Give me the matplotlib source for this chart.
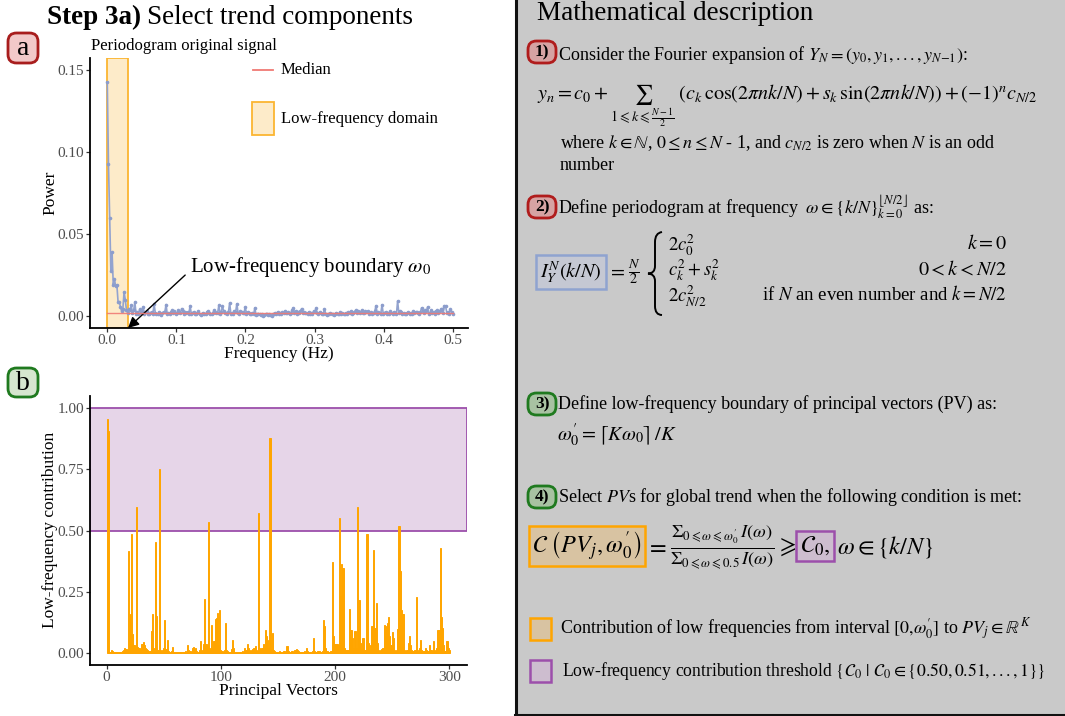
import matplotlib
matplotlib.use("Agg")
import matplotlib.pyplot as plt
from matplotlib.patches import Rectangle, FancyBboxPatch, PathPatch
from matplotlib.lines import Line2D
from matplotlib.path import Path

plt.rcParams['font.family'] = ['Liberation Serif', 'DejaVu Serif']
plt.rcParams['mathtext.fontset'] = 'stix'

W, H = 1065, 716

# ---------------- data ----------------
N_FREQ = 576
power = [
    0.1427, 0.0925, 0.060, 0.0276, 0.039, 0.019, 0.0225, 0.018, 0.019, 0.0085,
    0.0085, 0.0055, 0.003, 0.0045, 0.0146, 0.010, 0.0035, 0.002, 0.0045, 0.0035,
    0.0065, 0.002, 0.0035, 0.0085, 0.001, 0.0025, 0.0015, 0.004, 0.002, 0.0025,
    0.0055, 0.001, 0.0025, 0.003, 0.0015, 0.001, 0.002, 0.0025, 0.001, 0.0075,
    0.002, 0.0015, 0.001, 0.0025, 0.0015, 0.0005, 0.002, 0.0025, 0.0025, 0.007,
    0.001, 0.002, 0.0015, 0.0025, 0.0035, 0.002, 0.003, 0.0015, 0.002, 0.0035,
    0.0025, 0.002, 0.0045, 0.003, 0.0015, 0.0025, 0.002, 0.0025, 0.001, 0.0063,
    0.0015, 0.002, 0.0025, 0.001, 0.0015, 0.002, 0.003, 0.001, 0.0005, 0.0015,
    0.002, 0.0015, 0.001, 0.0025, 0.003, 0.002, 0.0015, 0.001, 0.002, 0.0035,
    0.0025, 0.002, 0.002, 0.0065, 0.0015, 0.0025, 0.006, 0.003, 0.002, 0.002,
    0.001, 0.0025, 0.0079, 0.0015, 0.002, 0.001, 0.003, 0.0025, 0.0075, 0.002,
    0.0015, 0.003, 0.0025, 0.002, 0.002, 0.0055, 0.0015, 0.0025, 0.002, 0.001,
    0.0015, 0.002, 0.001, 0.005, 0.0005, 0.001, 0.0015, 0.001, 0.0005, 0.001,
    0.0003, 0.0008, 0.001, 0.0015, 0.0005, 0.001, 0.0005, 0.0003, 0.001, 0.0015,
    0.002, 0.0015, 0.0025, 0.001, 0.002, 0.0015, 0.0025, 0.002, 0.003, 0.002,
    0.002, 0.0025, 0.0015, 0.002, 0.0035, 0.005, 0.002, 0.003, 0.0015, 0.0025,
    0.002, 0.003, 0.0045, 0.002, 0.0025, 0.002, 0.002, 0.0015, 0.0025, 0.001,
    0.002, 0.0015, 0.003, 0.0025, 0.0047, 0.002, 0.001, 0.0025, 0.002, 0.0015,
    0.001, 0.0043, 0.0015, 0.0005, 0.001, 0.0015, 0.002, 0.001, 0.0015, 0.0005,
    0.001, 0.002, 0.0015, 0.001, 0.0025, 0.0015, 0.002, 0.001, 0.0015, 0.002,
    0.0015, 0.0025, 0.002, 0.003, 0.0015, 0.002, 0.0025, 0.0035, 0.002, 0.003,
    0.0025, 0.002, 0.0035, 0.002, 0.002, 0.003, 0.0025, 0.003, 0.0015, 0.002,
    0.0025, 0.0015, 0.002, 0.003, 0.0063, 0.0015, 0.0025, 0.002, 0.0015, 0.0069,
    0.0015, 0.002, 0.0025, 0.001, 0.002, 0.0015, 0.003, 0.002, 0.0015, 0.0025,
    0.002, 0.001, 0.0091, 0.002, 0.003, 0.0025, 0.0015, 0.002, 0.001, 0.0015,
    0.002, 0.0025, 0.001, 0.002, 0.0015, 0.003, 0.002, 0.0025, 0.0025, 0.002,
    0.0015, 0.0025, 0.005, 0.003, 0.002, 0.0035, 0.003, 0.0055, 0.0015, 0.002,
    0.0035, 0.002, 0.0025, 0.0015, 0.003, 0.0035, 0.002, 0.003, 0.004, 0.0045,
    0.002, 0.0063, 0.006, 0.002, 0.0025, 0.0015, 0.004, 0.0025, 0.001,
]
freq = [k / N_FREQ for k in range(len(power))]
median_power = 0.0016
low_freq_boundary = 0.03

contribution = [
    0.956, 0.906, 0.005, 0.010, 0.008, 0.004, 0.003, 0.004, 0.003, 0.004,
    0.003, 0.005, 0.004, 0.006, 0.012, 0.020, 0.015, 0.010, 0.415, 0.157,
    0.150, 0.484, 0.075, 0.030, 0.020, 0.595, 0.025, 0.018, 0.020, 0.012,
    0.035, 0.044, 0.030, 0.020, 0.015, 0.012, 0.008, 0.006, 0.089, 0.157,
    0.020, 0.008, 0.452, 0.150, 0.010, 0.753, 0.012, 0.006, 0.010, 0.020,
    0.136, 0.015, 0.054, 0.006, 0.004, 0.005, 0.008, 0.025, 0.005, 0.004,
    0.003, 0.004, 0.005, 0.003, 0.004, 0.005, 0.003, 0.004, 0.006, 0.004,
    0.030, 0.010, 0.006, 0.005, 0.020, 0.024, 0.012, 0.018, 0.008, 0.005,
    0.010, 0.048, 0.010, 0.006, 0.035, 0.220, 0.034, 0.030, 0.535, 0.020,
    0.010, 0.115, 0.020, 0.048, 0.140, 0.143, 0.163, 0.030, 0.174, 0.010,
    0.008, 0.005, 0.010, 0.120, 0.010, 0.006, 0.004, 0.005, 0.015, 0.054,
    0.020, 0.005, 0.004, 0.003, 0.004, 0.005, 0.004, 0.003, 0.006, 0.005,
    0.020, 0.010, 0.034, 0.020, 0.010, 0.006, 0.012, 0.015, 0.020, 0.027,
    0.010, 0.008, 0.572, 0.020, 0.010, 0.020, 0.034, 0.020, 0.095, 0.068,
    0.054, 0.020, 0.877, 0.015, 0.082, 0.010, 0.006, 0.005, 0.004, 0.005,
    0.006, 0.004, 0.005, 0.004, 0.008, 0.006, 0.005, 0.028, 0.006, 0.004,
    0.005, 0.008, 0.006, 0.004, 0.010, 0.015, 0.012, 0.006, 0.005, 0.004,
    0.005, 0.004, 0.006, 0.005, 0.020, 0.006, 0.004, 0.005, 0.004, 0.006,
    0.060, 0.006, 0.004, 0.005, 0.008, 0.006, 0.005, 0.004, 0.006, 0.136,
    0.109, 0.020, 0.006, 0.005, 0.004, 0.008, 0.006, 0.370, 0.068, 0.035,
    0.035, 0.035, 0.030, 0.553, 0.232, 0.365, 0.347, 0.020, 0.010, 0.010,
    0.012, 0.010, 0.180, 0.093, 0.060, 0.020, 0.088, 0.088, 0.020, 0.597,
    0.214, 0.040, 0.010, 0.060, 0.060, 0.010, 0.010, 0.484, 0.040, 0.010,
    0.030, 0.110, 0.110, 0.422, 0.102, 0.204, 0.040, 0.010, 0.008, 0.012,
    0.015, 0.020, 0.113, 0.093, 0.109, 0.120, 0.147, 0.068, 0.030, 0.084,
    0.060, 0.010, 0.008, 0.012, 0.098, 0.520, 0.334, 0.174, 0.160, 0.160,
    0.010, 0.008, 0.012, 0.040, 0.068, 0.030, 0.010, 0.008, 0.006, 0.010,
    0.228, 0.010, 0.008, 0.020, 0.054, 0.010, 0.008, 0.006, 0.020, 0.012,
    0.006, 0.008, 0.030, 0.010, 0.006, 0.048, 0.010, 0.008, 0.020, 0.093,
    0.093, 0.430, 0.146, 0.102, 0.030, 0.008, 0.006, 0.048, 0.020, 0.010,
]
pv_index = list(range(1, len(contribution) + 1))
threshold_low, threshold_high = 0.50, 1.00

a_yticks = [0.00, 0.05, 0.10, 0.15]
a_xticks = [0.0, 0.1, 0.2, 0.3, 0.4, 0.5]
b_yticks = [0.00, 0.25, 0.50, 0.75, 1.00]
b_xticks = [0, 100, 200, 300]

# ---------------- helpers ----------------
def P(x, y):
    return (x / W, 1 - y / H)

def AX(l, t, r, b):
    return [l / W, 1 - b / H, (r - l) / W, (b - t) / H]

fig = plt.figure(figsize=(W / 100, H / 100), dpi=100)
fig.patch.set_facecolor('white')
renderer = fig.canvas.get_renderer()

TICKC = '#4d4d4d'

def style_axes(ax):
    for s in ['top', 'right']:
        ax.spines[s].set_visible(False)
    for s in ['left', 'bottom']:
        ax.spines[s].set_linewidth(1.3)
        ax.spines[s].set_color('black')
    ax.tick_params(direction='out', length=3, width=0.9, color='#333333',
                   labelsize=11, labelcolor=TICKC, pad=1.2)
    ax.set_facecolor('white')

# ---------------- panel a ----------------
axa = fig.add_axes(AX(90, 58, 468, 328))
style_axes(axa)
axa.axvspan(0, low_freq_boundary, facecolor='#fdebc9', edgecolor='#fbb531', lw=1.3, zorder=1)
axa.plot(freq, power, color='#93a3cf', lw=1.2, marker='o', ms=2.6, mew=0,
         mfc='#8c9dcc', zorder=3)
axa.plot([freq[0], freq[-1]], [median_power, median_power], color='#f07a74', lw=1.0,
         alpha=0.9, zorder=4)
axa.set_xlim(-0.025, 0.522)
axa.set_ylim(-0.0073, 0.1573)
axa.set_yticks(a_yticks)
axa.set_yticklabels(['0.00', '0.05', '0.10', '0.15'])
axa.set_xticks(a_xticks)
axa.set_xticklabels(['0.0', '0.1', '0.2', '0.3', '0.4', '0.5'])

axa.annotate('Low-frequency boundary $\\omega_0$',
             xy=(low_freq_boundary, -0.0073), xycoords='data',
             xytext=(190, H - 267), textcoords='figure pixels',
             fontsize=15, ha='left', va='center',
             arrowprops=dict(arrowstyle='-|>', color='black', lw=1.0,
                             mutation_scale=16, relpos=(0, 0.35),
                             shrinkA=2, shrinkB=0))

# legend (panel a)
fig.add_artist(Line2D([253 / W, 273 / W], [1 - 70 / H, 1 - 70 / H], color='#f07a74', lw=1.3))
fig.add_artist(Rectangle(P(252, 135), 22 / W, 33 / H, transform=fig.transFigure,
                         facecolor='#fdebc9', edgecolor='#fbb531', lw=1.3))
fig.text(*P(281, 70), 'Median', fontsize=12, ha='left', va='center')
fig.text(*P(281, 119), 'Low-frequency domain', fontsize=12, ha='left', va='center')

fig.text(*P(91, 46), 'Periodogram original signal', fontsize=12, ha='left', va='center')
fig.text(*P(50, 193), 'Power', fontsize=12.5, ha='center', va='center', rotation=90)
fig.text(*P(279, 354), 'Frequency (Hz)', fontsize=12.5, ha='center', va='center')

# ---------------- panel b ----------------
axb = fig.add_axes(AX(90, 396, 467, 665))
style_axes(axb)
axb.axhspan(threshold_low, threshold_high, facecolor='#e6d5e8', edgecolor='#9c4fab', lw=1.3, zorder=1)
axb.bar(pv_index, contribution, width=1.0, color='#ffa500', edgecolor='#ffa500', lw=0.7, zorder=2)
axb.set_xlim(-14.5, 315.5)
axb.set_ylim(-0.05, 1.05)
axb.set_yticks(b_yticks)
axb.set_yticklabels(['0.00', '0.25', '0.50', '0.75', '1.00'])
axb.set_xticks(b_xticks)
axb.set_xticklabels([str(v) for v in b_xticks])

fig.text(*P(50, 530), 'Low-frequency contribution', fontsize=12.5, ha='center', va='center', rotation=90)
fig.text(*P(278, 691), 'Principal Vectors', fontsize=12.5, ha='center', va='center')

# ---------------- title and badges (left) ----------------
t1 = fig.text(*P(47, 17), 'Step 3a)', fontsize=19.5, fontweight='bold', ha='left', va='center')
bb = t1.get_window_extent(renderer)
fig.text((bb.x1 + 6) / W, 1 - 17 / H, 'Select trend components', fontsize=19.5, ha='left', va='center')

def badge(l, t, r, b, s, fc, ec, fs, bold=False):
    fig.add_artist(FancyBboxPatch(P(l, b), (r - l) / W, (b - t) / H,
                                  boxstyle='round,pad=0,rounding_size=0.008',
                                  transform=fig.transFigure, fc=fc, ec=ec, lw=2.0,
                                  mutation_aspect=W / H))
    fig.text(*P((l + r) / 2, (t + b) / 2 + 0.5), s, fontsize=fs, ha='center', va='center',
             fontweight='bold' if bold else 'normal')

badge(8, 33, 38, 63, 'a', '#f2c9c9', '#a81d1d', 20)
badge(8, 368, 38, 397, 'b', '#d6e6cf', '#1f7a1f', 20)

# ---------------- right panel ----------------
fig.add_artist(Rectangle(P(515, 716), 550 / W, 716 / H, transform=fig.transFigure,
                         facecolor='#c9c9c9', edgecolor='none', zorder=0))
fig.add_artist(Line2D([515.5 / W, 515.5 / W], [0, 1], color='#111111', lw=2.2))
fig.add_artist(Line2D([515 / W, 1], [1 - 714.5 / H, 1 - 714.5 / H], color='#111111', lw=2.2))

FS = 13
fig.text(*P(537, 14), 'Mathematical description', fontsize=19.5, ha='left', va='center')

RED_FC, RED_EC = '#d6a3a3', '#b01c1c'
GRN_FC, GRN_EC = '#a8c2a2', '#1f7a1f'
badge(528, 41, 556, 63, '1)', RED_FC, RED_EC, 12.5, bold=True)
badge(528, 196, 556, 218, '2)', RED_FC, RED_EC, 12.5, bold=True)
badge(528, 393, 556, 415, '3)', GRN_FC, GRN_EC, 12.5, bold=True)
badge(528, 486, 556, 508, '4)', GRN_FC, GRN_EC, 12.5, bold=True)

fig.text(*P(558, 55), r'Consider the Fourier expansion of $Y_N = (y_0, y_1, ..., y_{N\mathrm{-}1})$:',
         fontsize=FS, ha='left', va='center')
fig.text(*P(537, 101),
         r'$y_n = c_0 + \sum_{1\leqslant k\leqslant \frac{N-1}{2}}\ (c_k\,\cos(2\pi nk/N) + s_k\,\sin(2\pi nk/N)) + (-1)^n c_{N/2}$',
         fontsize=14.5, ha='left', va='baseline')
fig.text(*P(560, 143), r'where $k \in \mathbb{N}$, $0 \leq n \leq N$ - 1, and $c_{N/2}$ is zero when $N$ is an odd',
         fontsize=FS, ha='left', va='center')
fig.text(*P(560, 166), 'number', fontsize=FS, ha='left', va='center')

fig.text(*P(558, 207), r'Define periodogram at frequency $\;\omega \in \{k/N\}_{k=0}^{\lfloor N/2\rfloor}$ as:',
         fontsize=FS, ha='left', va='center')

fig.text(*P(571, 272), r'$I_Y^N(k/N)$', fontsize=FS + 1.5, ha='center', va='center',
         bbox=dict(boxstyle='square,pad=0.2', fc='#c5c8d3', ec='#8fa3d0', lw=1.8))
fig.text(*P(617, 272), r'$=$', fontsize=FS + 1.5, ha='center', va='center')
fig.text(*P(634, 272), r'$\frac{N}{2}$', fontsize=FS + 1.5, ha='center', va='center')

brace_pts = [(662, 232), (655, 233), (655, 242), (655, 266), (655, 273.5), (648, 273.5),
             (655, 274), (655, 281), (655, 306), (655, 315), (662, 315)]
brace_codes = [Path.MOVETO, Path.CURVE3, Path.CURVE3, Path.LINETO, Path.CURVE3, Path.CURVE3,
               Path.CURVE3, Path.CURVE3, Path.LINETO, Path.CURVE3, Path.CURVE3]
fig.add_artist(PathPatch(Path([P(x, y) for x, y in brace_pts], brace_codes),
                         transform=fig.transFigure, fc='none', ec='black', lw=1.4))

fig.text(*P(668, 245), r'$2c_0^2$', fontsize=FS + 0.5, ha='left', va='center')
fig.text(*P(668, 270), r'$c_k^2 + s_k^2$', fontsize=FS + 0.5, ha='left', va='center')
fig.text(*P(668, 296), r'$2c_{N/2}^2$', fontsize=FS + 0.5, ha='left', va='center')
fig.text(*P(1007, 245), r'$k = 0$', fontsize=FS + 1.5, ha='right', va='center')
fig.text(*P(1007, 270), r'$0 < k < N/2$', fontsize=FS + 1.5, ha='right', va='center')
fig.text(*P(1007, 294), r'if $N$ an even number and $k = N/2$', fontsize=FS + 0.5, ha='right', va='center')

fig.text(*P(558, 404), 'Define low-frequency boundary of principal vectors (PV) as:',
         fontsize=FS, ha='left', va='center')
fig.text(*P(557, 435), r"$\omega^{\prime}_0 = \lceil K\omega_0\rceil\,/K$", fontsize=FS + 1.5,
         ha='left', va='center')

fig.text(*P(558, 497), r'Select $PV$s for global trend when the following condition is met:',
         fontsize=FS, ha='left', va='center')

FF = 17.5
fig.text(*P(587, 546), r"$\mathcal{C}\;\left(PV_j, \omega^{\prime}_0\right)$", fontsize=FF,
         ha='center', va='center',
         bbox=dict(boxstyle='square,pad=0.15', fc='#d8c3a2', ec='#ffa500', lw=1.8))
fig.text(*P(656, 547), r'$=$', fontsize=FF, ha='center', va='center')
fig.text(*P(722, 547),
         r"$\frac{\Sigma_{0\leqslant\omega\leqslant\omega^{\prime}_0}\, I(\omega)}{\Sigma_{0\leqslant\omega\leqslant 0.5}\, I(\omega)}$",
         fontsize=19, ha='center', va='center')
fig.text(*P(786, 547), r'$\geqslant$', fontsize=FF, ha='center', va='center')
fig.text(*P(815, 546), r'$\mathcal{C}_0,$', fontsize=FF, ha='center', va='center',
         bbox=dict(boxstyle='square,pad=0.15', fc='#cdbdcf', ec='#9c4fab', lw=1.8))
fig.text(*P(837, 547), r'$\omega \in \{k/N\}$', fontsize=FF, ha='left', va='center')

fig.add_artist(Rectangle(P(530, 640), 21 / W, 22 / H, transform=fig.transFigure,
                         facecolor='#d8c3a2', edgecolor='#ffa500', lw=1.8))
fig.text(*P(560, 629),
         r"Contribution of low frequencies from interval $[0{,}\omega^{\prime}_0]$ to $PV_j \in \mathbb{R}^K$",
         fontsize=FS, ha='left', va='center')
fig.add_artist(Rectangle(P(530, 682), 21 / W, 22 / H, transform=fig.transFigure,
                         facecolor='#cdbdcf', edgecolor='#9c4fab', lw=1.8))
fig.text(*P(562, 671),
         r'Low-frequency contribution threshold $\{\mathcal{C}_0\ |\ \mathcal{C}_0 \in \{0.50, 0.51, ... , 1\}\}$',
         fontsize=FS - 0.3, ha='left', va='center')

fig.savefig('out.png', dpi=100)
